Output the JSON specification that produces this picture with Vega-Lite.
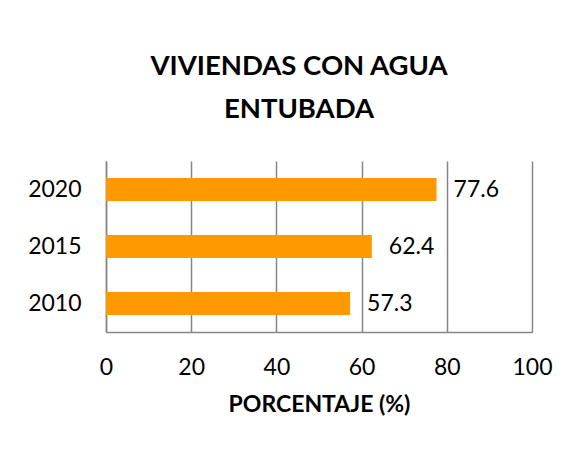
{
  "$schema": "https://vega.github.io/schema/vega-lite/v6.json",
  "width": 426,
  "height": 171,
  "autosize": {"type": "none"},
  "padding": {"left": 106, "top": 161, "right": 43, "bottom": 119},
  "background": "white",
  "title": {
    "text": ["VIVIENDAS CON AGUA", "ENTUBADA"],
    "font": "Lato",
    "fontSize": 27.5,
    "fontWeight": "bold",
    "color": "#000000",
    "lineHeight": 43,
    "anchor": "middle",
    "dx": -20,
    "baseline": "alphabetic",
    "offset": 16
  },
  "data": {
    "values": [
      {"year": "2010", "pct": 57.3},
      {"year": "2015", "pct": 62.4},
      {"year": "2020", "pct": 77.6}
    ]
  },
  "encoding": {
    "y": {
      "field": "year",
      "type": "nominal",
      "sort": "descending",
      "scale": {"paddingInner": 0.6, "paddingOuter": 0.3},
      "axis": {
        "title": null,
        "ticks": false,
        "labelPadding": 25,
        "labelFont": "Lato",
        "labelFontSize": 23,
        "labelColor": "#000000",
        "domainColor": "#868686",
        "domainWidth": 1.5
      }
    },
    "x": {
      "field": "pct",
      "type": "quantitative",
      "scale": {"domain": [0, 100]},
      "axis": {
        "values": [0, 20, 40, 60, 80, 100],
        "title": "PORCENTAJE (%)",
        "titleFont": "Lato",
        "titleFontSize": 23,
        "titleFontWeight": "bold",
        "titleColor": "#000000",
        "titlePadding": 14,
        "ticks": false,
        "labelPadding": 24,
        "labelFont": "Lato",
        "labelFontSize": 23,
        "labelColor": "#000000",
        "labelFlush": false,
        "domainColor": "#868686",
        "domainWidth": 1.5,
        "grid": true,
        "gridColor": "#868686",
        "gridWidth": 1.5,
        "gridOpacity": 1
      }
    }
  },
  "layer": [
    {"mark": {"type": "bar", "color": "#FF9900"}},
    {
      "mark": {"type": "text", "align": "left", "baseline": "middle", "dx": 17, "font": "Lato", "fontSize": 23, "color": "#000000"},
      "encoding": {"text": {"field": "pct", "type": "quantitative", "format": ".1f"}}
    }
  ],
  "config": {"view": {"stroke": null}}
}
